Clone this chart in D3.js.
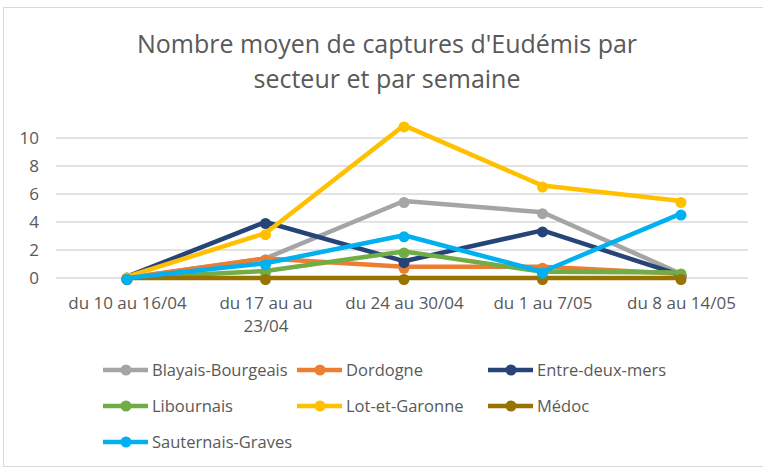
<!DOCTYPE html>
<html>
<head>
<meta charset="utf-8">
<script src="https://cdn.jsdelivr.net/npm/d3@7"></script>
<style>
  body { margin: 0; background: #fff; }
  svg { font-family: "Open Sans", sans-serif; }
</style>
</head>
<body>
<svg width="763" height="468"></svg>
<script>
// weeks (x categories)
const weeks = ["du 10 au 16/04", "du 17 au au 23/04", "du 24 au 30/04", "du 1 au 7/05", "du 8 au 14/05"];
const yTicks = [0, 2, 4, 6, 8, 10];

// one array per sector
const blayais = [0, 1.4, 5.5, 4.7, 0.3];
const dordogne = [0, 1.4, 0.8, 0.8, 0.3];
const entreDeuxMers = [0.1, 4.0, 1.2, 3.4, 0.2];
const libournais = [0, 0.5, 1.9, 0.45, 0.4];
const lotEtGaronne = [0.1, 3.2, 10.9, 6.6, 5.5];
const medoc = [0, 0, 0, 0, 0];
const sauternais = [0, 1.05, 3.05, 0.45, 4.6];

const series = [
  { name: "Blayais-Bourgeais", values: blayais, color: "#a5a5a5" },
  { name: "Dordogne", values: dordogne, color: "#ed7d31" },
  { name: "Entre-deux-mers", values: entreDeuxMers, color: "#264478" },
  { name: "Libournais", values: libournais, color: "#70ad47" },
  { name: "Lot-et-Garonne", values: lotEtGaronne, color: "#ffc000" },
  { name: "Médoc", values: medoc, color: "#997300" },
  { name: "Sauternais-Graves", values: sauternais, color: "#00b0f0" }
];

const svg = d3.select("svg");

// outer frame
svg.append("rect")
  .attr("x", 3.5).attr("y", 7.5)
  .attr("width", 770).attr("height", 459)
  .attr("fill", "none").attr("stroke", "#d9d9d9");

// title
const title = svg.append("text")
  .attr("text-anchor", "middle")
  .attr("fill", "#595959")
  .style("font-size", "25px");
title.append("tspan").attr("x", 387).attr("y", 53).text("Nombre moyen de captures d'Eudémis par");
title.append("tspan").attr("x", 387).attr("y", 88).text("secteur et par semaine");

// scales
const x = d3.scalePoint().domain(weeks).range([127, 681]);
const y = d3.scaleLinear().domain([0, 10]).range([278, 138]);

// gridlines
svg.append("g")
  .selectAll("line")
  .data(yTicks)
  .enter()
  .append("line")
  .attr("x1", 56).attr("x2", 748)
  .attr("y1", (d) => y(d)).attr("y2", (d) => y(d))
  .attr("stroke", "#d9d9d9").attr("stroke-width", 1.3);

// y axis labels
const yAxis = d3.axisLeft(y).tickValues(yTicks).tickSize(0).tickPadding(0);
svg.append("g")
  .attr("transform", "translate(39,0)")
  .call(yAxis)
  .call((g) => g.select(".domain").remove())
  .selectAll("text")
  .attr("fill", "#595959")
  .attr("dy", "0.35em")
  .style("font-size", "17px")
  .style("font-family", "Open Sans, sans-serif");

// x axis labels (wrapped like the original)
const xAxis = d3.axisBottom(x).tickSize(0).tickFormat(() => "");
const gx = svg.append("g").attr("transform", "translate(0,278)").call(xAxis);
gx.select(".domain").remove();
const wrapLines = { "du 17 au au 23/04": ["du 17 au au", "23/04"] };
gx.selectAll(".tick").each(function (d) {
  const lines = wrapLines[d] || [d];
  const t = d3.select(this).append("text")
    .attr("fill", "#595959")
    .attr("text-anchor", "middle")
    .style("font-size", "17px")
    .style("font-family", "Open Sans, sans-serif");
  lines.forEach((l, i) => {
    t.append("tspan").attr("x", 0).attr("y", 31 + i * 23).text(l);
  });
});

// lines + markers
const line = d3.line()
  .x((d, i) => x(weeks[i]))
  .y((d) => y(d));

const sg = svg.append("g")
  .selectAll("g")
  .data(series)
  .enter()
  .append("g");

sg.append("path")
  .attr("d", (d) => line(d.values))
  .attr("fill", "none")
  .attr("stroke", (d) => d.color)
  .attr("stroke-width", 4.5)
  .attr("stroke-linejoin", "round");

sg.selectAll("circle")
  .data((d) => d.values.map((v, i) => ({ v, i, color: d.color })))
  .enter()
  .append("circle")
  .attr("cx", (d) => x(weeks[d.i]))
  .attr("cy", (d) => y(d.v) + 1.5)
  .attr("r", 5.5)
  .attr("fill", (d) => d.color);

// legend
const colX = [103, 297, 488];
const rowY = [370, 406, 442];
const lg = svg.append("g")
  .selectAll("g")
  .data(series)
  .enter()
  .append("g")
  .attr("transform", (d, i) => "translate(" + colX[i % 3] + "," + rowY[Math.floor(i / 3)] + ")");

lg.append("line")
  .attr("x1", 0).attr("x2", 45)
  .attr("stroke", (d) => d.color)
  .attr("stroke-width", 4.5);
lg.append("circle")
  .attr("cx", 23).attr("r", 5.5)
  .attr("fill", (d) => d.color);
lg.append("text")
  .attr("x", 49).attr("dy", "0.35em")
  .attr("fill", "#595959")
  .style("font-size", "16.5px")
  .text((d) => d.name);
</script>
</body>
</html>
